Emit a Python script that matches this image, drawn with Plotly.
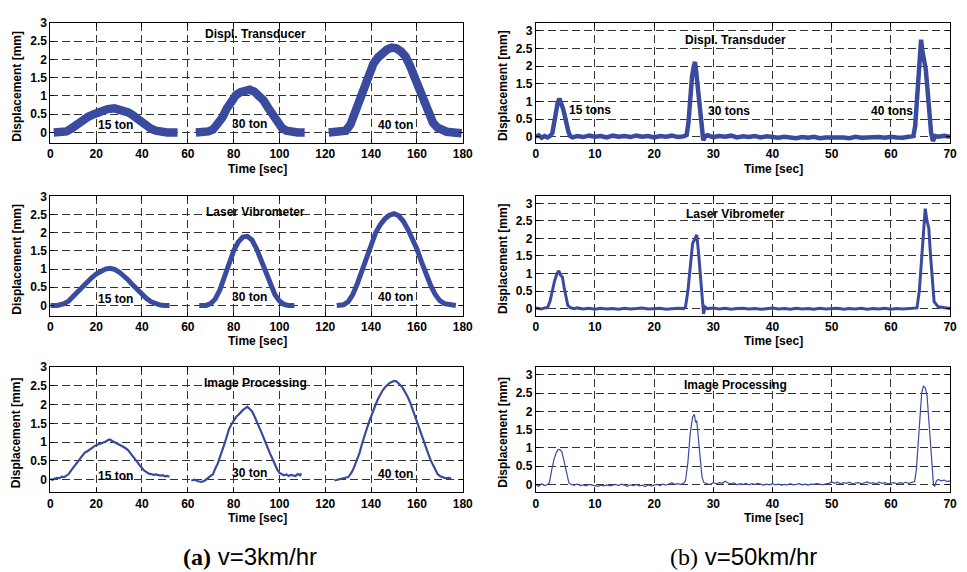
import plotly.graph_objects as go

# ---------------- data: v = 3 km/hr (three separate passes, None splits the passes) ----------------
DT3_T = [1.5, 4, 7, 9, 12, 14, 16.5, 19, 22, 25, 28, 31, 34, 36, 38, 40, 42, 44, 46, 48, 51, 55.5, None,
         63.5, 66, 69, 71, 73, 75, 77, 79, 81, 83, 85, 87, 89, 91, 93, 95, 97, 99, 101, 103, 105, 108, 111, None,
         121.5, 124, 127, 129, 131, 133, 135, 137, 139, 141, 143, 145, 147, 149, 151, 153, 155, 157, 159, 161,
         163, 165, 167, 169, 171, 173, 176, 179.5]
DT3_Y = [0.0, 0.0, 0.03, 0.1, 0.25, 0.33, 0.43, 0.5, 0.58, 0.64, 0.66, 0.62, 0.55, 0.47, 0.37, 0.27, 0.17, 0.1, 0.05, 0.02, 0.0, 0.0, None,
         0.0, 0.0, 0.03, 0.08, 0.2, 0.4, 0.65, 0.88, 1.02, 1.1, 1.15, 1.17, 1.12, 1.02, 0.88, 0.68, 0.46, 0.27, 0.13, 0.05, 0.02, 0.0, 0.0, None,
         0.0, 0.0, 0.0, 0.05, 0.22, 0.55, 0.95, 1.33, 1.65, 1.88, 2.05, 2.18, 2.27, 2.32, 2.3, 2.22, 2.08, 1.82, 1.5, 1.15,
         0.8, 0.5, 0.27, 0.13, 0.06, 0.02, 0.0, -0.02]

LV3_T = [0, 3, 6, 8, 10, 12, 14, 16, 18, 20, 22, 24, 26, 28, 30, 32, 34, 36, 38, 40, 42, 44, 46, 48, 50, 52, None,
         65, 68, 70, 72, 74, 76, 78, 80, 82, 84, 86, 88, 90, 92, 94, 96, 98, 100, 102, 104, 106.5, None,
         125, 128, 130, 132, 134, 136, 138, 140, 142, 144, 146, 148, 150, 152, 154, 156, 158, 160, 162, 164, 166,
         168, 170, 172, 174, 177]
LV3_Y = [0.0, 0.0, 0.05, 0.12, 0.25, 0.38, 0.52, 0.65, 0.76, 0.86, 0.94, 1.0, 1.02, 0.99, 0.92, 0.82, 0.7, 0.56, 0.42, 0.3, 0.19, 0.1, 0.04, 0.01, 0.0, 0.0, None,
         0.0, 0.0, 0.05, 0.18, 0.43, 0.8, 1.15, 1.5, 1.74, 1.88, 1.9, 1.8, 1.56, 1.25, 0.9, 0.58, 0.3, 0.12, 0.03, 0.0, 0.0, None,
         0.0, 0.02, 0.1, 0.3, 0.6, 0.95, 1.35, 1.72, 2.0, 2.22, 2.38, 2.48, 2.52, 2.47, 2.32, 2.1, 1.85, 1.55, 1.2, 0.85, 0.55,
         0.3, 0.13, 0.05, 0.02, 0.0]

IP3_T = [0, 1, 2, 3, 4, 5, 6, 7, 8, 9, 10, 11, 12, 13, 14, 15, 16, 17, 18, 19, 20, 21, 22, 23, 24, 25, 26, 27, 28, 29,
         30, 31, 32, 33, 34, 35, 36, 37, 38, 39, 40, 41, 42, 43, 44, 45, 46, 47, 48, 49, 50, 51, 52, None,
         61.5, 63, 64.5, 66, 67.5, 69, 70, 71, 72, 73, 74, 75, 76, 77, 78, 79, 80, 81, 82, 83, 84, 85, 86, 87, 88, 89,
         90, 91, 92, 93, 94, 95, 96, 97, 98, 99, 100, 101, 102, 103, 104, 105, 106, 107, 108, 109, 109.5, None,
         124, 125.5, 127, 128.5, 130, 131, 132, 133, 134, 135, 136, 137, 138, 139, 140, 141, 142, 143, 144, 145, 146,
         147, 148, 149, 150, 151, 152, 153, 154, 155, 156, 157, 158, 159, 160, 161, 162, 163, 164, 165, 166, 167, 168,
         169, 170, 171, 172, 173, 174, 175]
IP3_Y = [0.02, 0.0, 0.03, 0.05, 0.04, 0.08, 0.07, 0.1, 0.15, 0.24, 0.32, 0.4, 0.48, 0.57, 0.66, 0.72, 0.75, 0.8, 0.83, 0.88,
         0.92, 0.94, 0.97, 1.0, 1.01, 1.05, 1.07, 1.03, 1.0, 0.97, 0.95, 0.9, 0.87, 0.83, 0.78, 0.7, 0.63, 0.55, 0.47, 0.38,
         0.3, 0.24, 0.2, 0.16, 0.15, 0.13, 0.14, 0.12, 0.11, 0.12, 0.09, 0.1, 0.08, None,
         -0.02, 0.0, -0.04, -0.06, -0.02, 0.05, 0.1, 0.15, 0.3, 0.42, 0.6, 0.75, 0.95, 1.15, 1.35, 1.47, 1.58, 1.66, 1.72,
         1.8, 1.85, 1.9, 1.94, 1.88, 1.82, 1.7, 1.58, 1.42, 1.28, 1.12, 0.98, 0.82, 0.68, 0.55, 0.4, 0.27, 0.18, 0.14, 0.12,
         0.14, 0.1, 0.13, 0.12, 0.1, 0.15, 0.12, 0.17, None,
         -0.02, 0.0, 0.02, 0.05, 0.07, 0.15, 0.25, 0.4, 0.55, 0.72, 0.95, 1.12, 1.33, 1.52, 1.7, 1.85, 2.0, 2.15, 2.27, 2.37,
         2.45, 2.52, 2.57, 2.6, 2.63, 2.62, 2.57, 2.5, 2.42, 2.32, 2.2, 2.06, 1.88, 1.72, 1.55, 1.38, 1.2, 1.02, 0.85, 0.68,
         0.52, 0.38, 0.25, 0.15, 0.1, 0.07, 0.05, 0.04, 0.05, 0.03]

# ---------------- data: v = 50 km/hr (one continuous record) ----------------
DT50_T = [0, 0.5, 1, 1.5, 2, 2.5, 2.8, 3.1, 3.4, 3.7, 4.0, 4.3, 4.6, 4.9, 5.2, 5.5, 5.8, 6.2, 7, 8, 9, 10, 11, 12,
          13, 14, 15, 16, 17, 18, 19, 20, 21, 22, 23, 24, 25, 25.5, 25.8, 26.1, 26.4, 26.7, 26.9, 27.1, 27.4, 27.7,
          28.0, 28.3, 28.6, 29, 30, 31, 32, 33, 34, 35, 36, 37, 38, 39, 40, 41, 42, 43, 44, 45, 46, 47, 48, 49, 50,
          51, 52, 53, 54, 55, 56, 57, 58, 59, 60, 61, 62, 63, 63.8, 64.1, 64.4, 64.7, 64.9, 65.1, 65.3, 65.6, 65.9,
          66.2, 66.5, 66.8, 67.1, 67.5, 68, 69, 70]
DT50_Y = [0.0, 0.04, -0.03, 0.02, -0.02, 0.03, 0.1, 0.4, 0.7, 0.95, 1.08, 0.95, 0.8, 0.6, 0.35, 0.15, 0.02, -0.02, 0.02,
          -0.01, 0.03, 0.0, 0.02, -0.02, 0.03, 0.0, 0.02, -0.01, 0.03, 0.0, 0.02, -0.02, 0.02, 0.0, 0.03, -0.01, 0.01,
          0.05, 0.4, 1.1, 1.7, 2.0, 2.12, 1.85, 1.35, 0.8, 0.3, -0.1, 0.0, 0.04, -0.01, 0.02, 0.0, 0.03, -0.02, 0.01,
          -0.01, 0.02, -0.02, 0.01, -0.01, -0.03, 0.0, -0.02, -0.04, -0.01, -0.03, 0.0, -0.04, -0.02, -0.01, -0.03,
          -0.02, -0.04, 0.0, -0.03, -0.02, -0.04, -0.01, -0.03, 0.0, -0.02, -0.03, 0.0, 0.02, 0.3, 1.0, 1.9, 2.5, 2.75,
          2.45, 2.2, 1.9, 1.3, 0.6, 0.1, -0.12, 0.02, 0.0, 0.03, 0.0]

LV50_T = [0, 1, 1.5, 2, 2.4, 2.8, 3.2, 3.6, 3.9, 4.2, 4.5, 4.8, 5.1, 5.4, 5.8, 6.5, 7, 8, 9, 10, 11, 12, 13, 14, 15,
          16, 17, 18, 19, 20, 21, 22, 23, 24, 25, 25.3, 25.7, 26.1, 26.5, 26.9, 27.2, 27.5, 27.8, 28.1, 28.35, 28.6,
          29, 30, 31, 32, 33, 34, 35, 36, 37, 38, 39, 40, 41, 42, 43, 44, 45, 46, 47, 48, 49, 50, 51, 52, 53, 54, 55,
          56, 57, 58, 59, 60, 61, 62, 63, 64, 64.4, 64.8, 65.2, 65.5, 65.8, 66.1, 66.4, 66.7, 67.0, 67.3, 68, 69, 70]
LV50_Y = [0.02, -0.01, 0.02, 0.03, 0.2, 0.5, 0.8, 1.0, 1.08, 0.95, 0.9, 0.6, 0.3, 0.1, 0.03, 0.0, 0.02, -0.01, 0.01,
          -0.02, 0.01, -0.01, 0.0, -0.02, 0.01, -0.01, 0.0, 0.02, -0.01, 0.0, 0.01, -0.02, 0.0, 0.01, 0.0, 0.05, 0.5,
          1.3, 1.85, 2.0, 2.1, 1.6, 0.9, 0.25, -0.15, 0.05, 0.0, 0.02, -0.01, 0.01, -0.02, 0.0, 0.01, -0.01, 0.0,
          -0.02, 0.01, 0.02, -0.01, 0.0, -0.02, 0.01, -0.01, 0.0, -0.02, 0.01, -0.01, 0.0, 0.01, -0.02, 0.0, -0.01,
          0.01, -0.02, 0.0, -0.01, 0.01, -0.02, 0.0, -0.01, 0.0, 0.01, 0.02, 0.5, 1.5, 2.4, 2.85, 2.5, 2.3, 1.5, 0.7,
          0.2, 0.05, 0.02, 0.0, 0.02]

IP50_T = [0, 0.5, 1, 1.5, 2, 2.3, 2.7, 3.1, 3.5, 3.8, 4.1, 4.4, 4.7, 5.0, 5.3, 5.6, 6, 6.5, 7, 7.5, 8, 8.5, 9, 9.5,
          10, 10.5, 11, 11.5, 12, 12.5, 13, 13.5, 14, 14.5, 15, 15.5, 16, 16.5, 17, 17.5, 18, 18.5, 19, 19.5, 20,
          20.5, 21, 21.5, 22, 22.5, 23, 23.5, 24, 24.5, 25, 25.3, 25.7, 26.1, 26.5, 26.8, 27.0, 27.2, 27.5, 27.8,
          28.1, 28.4, 29, 29.5, 30, 30.5, 31, 31.5, 32, 32.5, 33, 33.5, 34, 34.5, 35, 35.5, 36, 36.5, 37, 37.5, 38,
          38.5, 39, 39.5, 40, 40.5, 41, 41.5, 42, 42.5, 43, 43.5, 44, 44.5, 45, 45.5, 46, 46.5, 47, 47.5, 48, 48.5,
          49, 49.5, 50, 50.5, 51, 51.5, 52, 52.5, 53, 53.5, 54, 54.5, 55, 55.5, 56, 56.5, 57, 57.5, 58, 58.5, 59,
          59.5, 60, 60.5, 61, 61.5, 62, 62.5, 63, 63.5, 64, 64.3, 64.6, 64.9, 65.2, 65.5, 65.8, 66.1, 66.4, 66.7,
          67.0, 67.2, 67.4, 67.7, 68, 68.5, 69, 69.5, 70]
IP50_Y = [0.0, -0.05, 0.02, -0.03, 0.0, 0.05, 0.4, 0.7, 0.88, 0.96, 0.95, 0.9, 0.7, 0.45, 0.2, 0.04, 0.0, -0.02, 0.01,
          -0.03, -0.01, -0.04, 0.0, -0.02, -0.03, -0.05, -0.02, -0.04, -0.01, -0.04, -0.02, 0.0, -0.03, 0.01, -0.02,
          -0.05, -0.01, -0.03, 0.0, -0.04, -0.02, -0.06, -0.01, -0.04, -0.02, 0.0, -0.03, 0.01, -0.02, 0.02, 0.05,
          0.0, 0.02, 0.0, 0.04, 0.1, 0.6, 1.4, 1.85, 1.92, 1.7, 1.75, 1.3, 0.7, 0.2, 0.05, 0.02, 0.0, 0.05, 0.02,
          0.05, 0.03, 0.09, 0.04, 0.02, 0.04, -0.01, 0.02, 0.0, 0.03, -0.01, 0.02, 0.0, 0.03, 0.01, -0.02, 0.01,
          -0.01, 0.02, -0.01, 0.01, -0.02, 0.0, -0.01, 0.02, -0.01, 0.0, 0.02, -0.01, 0.01, -0.02, 0.01, 0.0, 0.02,
          0.01, -0.01, 0.02, 0.03, 0.07, 0.03, 0.06, 0.02, 0.05, 0.03, 0.06, 0.02, 0.04, 0.05, 0.02, 0.04, 0.07,
          0.03, 0.05, 0.02, 0.06, 0.03, 0.05, 0.02, 0.03, 0.05, 0.02, 0.05, 0.03, 0.06, 0.03, 0.05, 0.08, 0.4, 1.2,
          2.0, 2.5, 2.7, 2.65, 2.45, 1.8, 0.9, 0.25, -0.02, -0.05, 0.1, 0.14, 0.1, 0.12, 0.08, 0.1]

PANEL_TITLES = ["Displ. Transducer", "Laser Vibrometer", "Image Processing"]
LOADS_3 = ["15 ton", "30 ton", "40 ton"]
LOADS_50 = ["15 tons", "30 tons", "40 tons"]
CAPTIONS = ["(a)", "(b)"]
SPEEDS = ["v=3km/hr", "v=50km/hr"]

# ---------------- layout geometry (pixels of a 967 x 572 page) ----------------
W, H = 967, 572
LINE = "#3a4b9f"
GRID = "#333333"
FONT = "Liberation Sans, Arial, sans-serif"
SERIF = "Liberation Serif, Times New Roman, serif"


def px_x(p):
    return p / W


def px_y(p):
    return 1 - p / H


def label(text, x, y, size=12, bold=True, angle=0, xref="paper", yref="paper", family=FONT):
    return dict(text=text, xref=xref, yref=yref, x=x, y=y, xanchor="center", yanchor="middle",
                textangle=angle, showarrow=False,
                font=dict(size=size, family=family, weight="bold" if bold else "normal"))


col_px = [(48, 466), (540, 960)]
row_px = [(16, 138), (192, 313), (365, 492)]
y_ranges = [[(-0.29, 3.0), (-0.18, 3.23)],
            [(-0.28, 3.0), (-0.20, 3.20)],
            [(-0.33, 3.0), (-0.21, 3.22)]]
x_ranges = [(0, 180), (0, 70)]
x_dtick = [20, 10]

series = [[(DT3_T, DT3_Y, 8.5), (DT50_T, DT50_Y, 4.5)],
          [(LV3_T, LV3_Y, 5), (LV50_T, LV50_Y, 3)],
          [(IP3_T, IP3_Y, 2.2), (IP50_T, IP50_Y, 1.2)]]

fig = go.Figure()
layout = dict(width=W, height=H, margin=dict(l=0, r=0, t=0, b=0),
              paper_bgcolor="white", plot_bgcolor="white", showlegend=False,
              font=dict(family=FONT, color="black"))
annotations = []

idx = 0
for r in range(3):
    for c in range(2):
        idx += 1
        xa = "xaxis" if idx == 1 else f"xaxis{idx}"
        ya = "yaxis" if idx == 1 else f"yaxis{idx}"
        xref = "x" if idx == 1 else f"x{idx}"
        yref = "y" if idx == 1 else f"y{idx}"
        t, y, w = series[r][c]
        fig.add_trace(go.Scatter(x=t, y=y, mode="lines", xaxis=xref, yaxis=yref,
                                 line=dict(color=LINE, width=w), connectgaps=False,
                                 hoverinfo="skip"))
        common = dict(showline=True, linecolor="black", linewidth=1, mirror="ticks",
                      ticks="inside", ticklen=4, tickcolor="black",
                      showgrid=True, gridcolor=GRID, gridwidth=1, griddash="8px,4px",
                      zeroline=False, tickfont=dict(size=12, family=FONT, weight="bold"))
        layout[xa] = dict(domain=[px_x(col_px[c][0]), px_x(col_px[c][1])], anchor=yref,
                          range=list(x_ranges[c]), dtick=x_dtick[c], tick0=0, **common)
        layout[ya] = dict(domain=[px_y(row_px[r][1]), px_y(row_px[r][0])], anchor=xref,
                          range=list(y_ranges[r][c]), dtick=0.5, tick0=0, **common)

        # axis titles
        annotations.append(label("Displacement [mm]", px_x(14 if c == 0 else 507),
                                 px_y((row_px[r][0] + row_px[r][1]) / 2 + 3), angle=-90))
        annotations.append(label("Time [sec]", px_x(258 if c == 0 else 781),
                                 px_y(row_px[r][1] + 26)))

        # sensor name inside each panel
        annotations.append(label(PANEL_TITLES[r],
                                 89.6 if c == 0 else 33.8,
                                 [2.7, 2.57, 2.58][r] if c == 0 else [2.75, 2.71, 2.73][r],
                                 xref=xref, yref=yref))

# load labels
load_x3 = [28.4, 87.0, 150.8]
load_y3 = [[0.2, 0.24, 0.2], [0.18, 0.24, 0.24], [0.11, 0.17, 0.16]]
for r, pi in enumerate([1, 3, 5]):
    for k in range(3):
        annotations.append(label(LOADS_3[k], load_x3[k], load_y3[r][k],
                                 xref="x" if pi == 1 else f"x{pi}", yref="y" if pi == 1 else f"y{pi}"))
load_x50 = [9.1, 32.6, 60.2]
load_y50 = [0.77, 0.74, 0.72]
for k in range(3):
    annotations.append(label(LOADS_50[k], load_x50[k], load_y50[k], xref="x2", yref="y2"))

# figure captions
for c, cx in enumerate([250, 751]):
    annotations.append(label(
        f"<span style='font-family:{SERIF}'>{'<b>' + CAPTIONS[c] + '</b>' if c == 0 else CAPTIONS[c]}</span> {SPEEDS[c]}",
        px_x(cx), px_y(557), size=24, bold=False))

layout["annotations"] = annotations
fig.update_layout(**layout)
fig.write_html("out.html")
